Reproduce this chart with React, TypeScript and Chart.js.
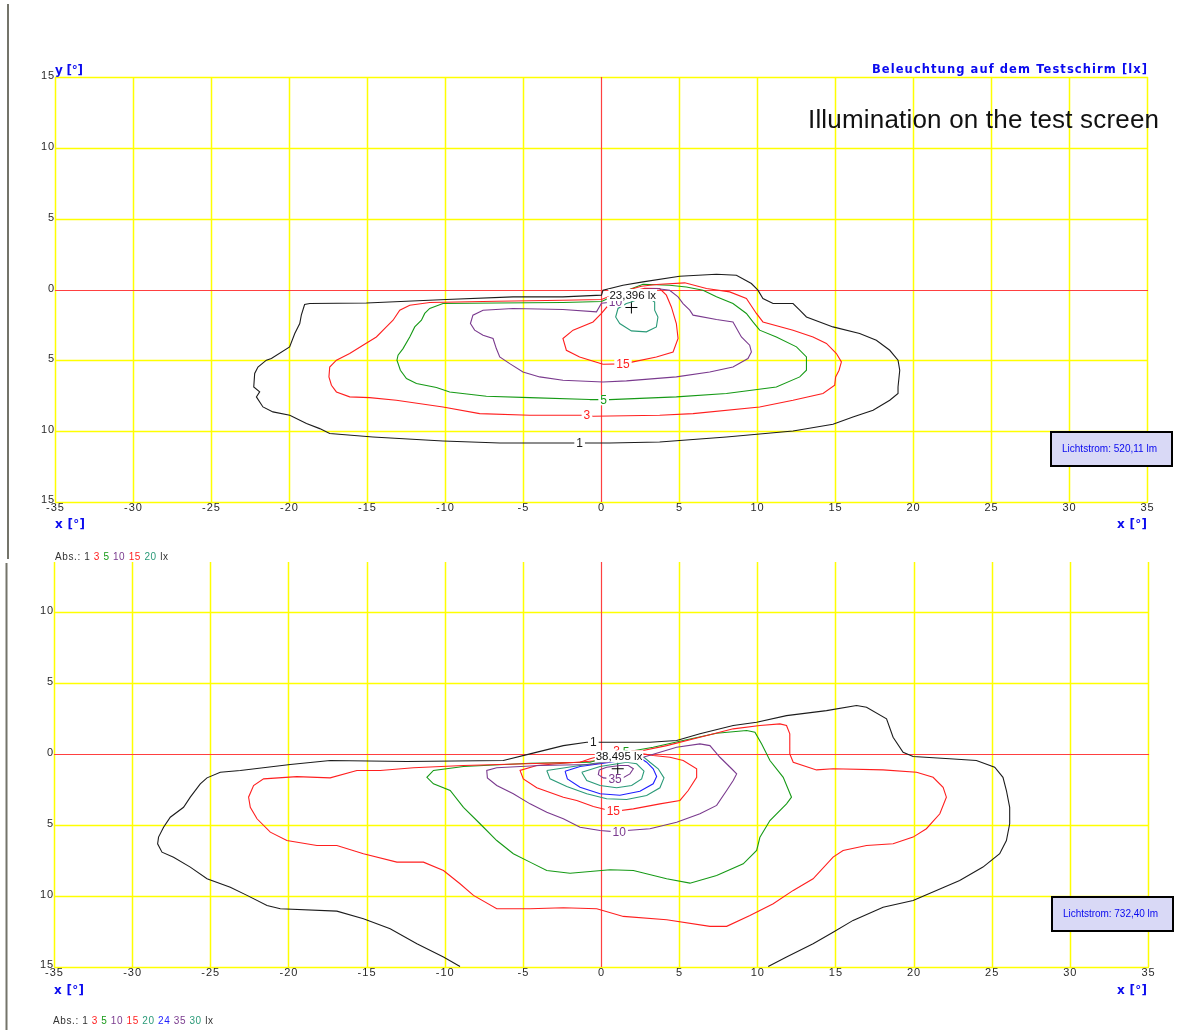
import React, { useEffect, useRef } from 'react';
import { Chart, registerables } from 'chart.js';

Chart.register(...registerables);

type Pt = [number, number];

// ---------- upper panel: illuminance isolines on the test screen (x, y in degrees) ----------
const upperLevels = [1, 3, 5, 10, 15, 20];

const upper1: Pt[] = [
  [-0.72, -10.83], [-2.44, -10.83], [-6.49, -10.83], [-10.13, -10.69], [-14.62, -10.41], [-17.39, -10.17],
  [-18.03, -9.82], [-18.88, -9.46], [-19.95, -8.88], [-21.03, -8.64], [-21.67, -8.29], [-22.09, -7.58],
  [-21.88, -7.23], [-22.26, -6.88], [-22.2, -5.93], [-21.99, -5.47], [-21.45, -4.99], [-21.13, -4.87],
  [-19.96, -4.05], [-19.63, -3.11], [-19.31, -2.4], [-19.21, -1.81], [-19.0, -1.06], [-18.67, -0.99],
  [-15.04, -0.95], [-9.91, -0.71], [-5.64, -0.52], [-2.44, -0.52], [0.03, -0.4], [0.13, -0.05],
  [1.41, 0.3], [2.69, 0.54], [5.04, 0.94], [7.4, 1.08], [8.68, 1.01], [9.64, 0.42], [10.06, -0.05],
  [10.38, -0.64], [11.03, -0.99], [12.31, -0.99], [12.74, -1.46], [13.17, -1.94], [14.87, -2.64],
  [16.58, -3.11], [17.65, -3.58], [18.51, -4.29], [19.04, -4.99], [19.15, -5.7], [19.04, -6.88],
  [19.04, -7.34], [18.51, -7.82], [17.44, -8.53], [16.15, -9.0], [14.87, -9.51], [12.31, -9.99],
  [8.04, -10.41], [3.76, -10.76], [0.56, -10.83],
];

const upper3: Pt[] = [
  [-0.9, -8.88], [-2.44, -8.88], [-4.57, -8.88], [-7.78, -8.76], [-10.13, -8.29], [-13.12, -7.82],
  [-14.83, -7.63], [-16.11, -7.58], [-16.96, -7.23], [-17.28, -6.76], [-17.44, -6.17], [-17.39, -5.47],
  [-16.96, -4.99], [-16.11, -4.52], [-15.26, -3.93], [-14.4, -3.35], [-13.76, -2.64], [-13.33, -2.17],
  [-12.9, -1.46], [-12.26, -1.11], [-10.98, -0.92], [-6.71, -0.83], [-2.44, -0.76], [0.03, -0.71],
  [1.2, -0.19], [2.59, 0.23], [3.55, 0.35], [5.37, 0.47], [6.76, 0.07], [8.25, -0.17], [9.32, -0.64],
  [9.96, -1.69], [10.38, -2.29], [12.31, -2.87], [13.59, -3.35], [14.45, -3.81], [15.09, -4.52],
  [15.41, -5.11], [15.26, -5.7], [15.04, -6.17], [14.98, -6.76], [14.23, -7.34], [12.31, -7.82],
  [10.17, -8.29], [5.9, -8.76], [3.76, -8.88], [-0.51, -8.95],
];

const upper5: Pt[] = [
  [-0.72, -7.77], [-4.57, -7.63], [-7.35, -7.54], [-9.7, -7.23], [-10.55, -6.92], [-11.83, -6.64],
  [-12.47, -6.29], [-12.86, -5.7], [-13.08, -4.99], [-13.01, -4.64], [-12.69, -4.17], [-12.26, -3.35],
  [-11.94, -2.64], [-11.51, -2.17], [-11.3, -1.69], [-10.98, -1.34], [-10.13, -0.99], [-6.71, -0.95],
  [-2.44, -0.92], [0.03, -0.85], [1.2, -0.26], [2.69, 0.37], [4.4, 0.3], [5.47, 0.18], [6.54, -0.05],
  [7.4, -0.52], [8.46, -0.99], [9.32, -1.69], [9.74, -2.29], [10.17, -2.87], [11.24, -3.35],
  [12.53, -4.05], [13.17, -4.76], [13.17, -5.7], [12.74, -6.17], [11.24, -6.88], [8.04, -7.34],
  [4.83, -7.58], [0.56, -7.77],
];

const upper10: Pt[] = [
  [0.13, -6.53], [-2.44, -6.41], [-3.93, -6.17], [-5.0, -5.82], [-5.85, -5.23], [-6.49, -4.76],
  [-6.71, -4.17], [-6.92, -3.46], [-7.56, -3.23], [-8.1, -2.87], [-8.37, -2.4], [-8.21, -1.81],
  [-7.56, -1.46], [-5.64, -1.34], [-2.44, -1.41], [-0.29, -1.58], [0.03, -0.97], [0.75, -0.88],
  [1.84, -0.26], [2.8, 0.02], [3.55, 0.07], [4.4, -0.05], [4.94, -0.52], [5.26, -0.99], [5.69, -1.46],
  [5.9, -1.81], [7.4, -2.12], [8.46, -2.29], [9.0, -3.35], [9.53, -3.93], [9.64, -4.41], [9.42, -4.87],
  [8.46, -5.47], [6.97, -5.82], [4.83, -6.17], [1.63, -6.45],
];

const upper15: Pt[] = [
  [0.13, -5.28], [1.41, -5.25], [2.05, -5.11], [3.55, -4.76], [4.62, -4.41], [4.94, -3.46],
  [4.83, -2.4], [4.51, -1.23], [4.19, -0.4], [3.76, 0.07], [2.8, 0.09], [1.52, -0.26], [0.56, -0.99],
  [0.03, -1.69], [-0.51, -2.29], [-1.79, -2.87], [-2.44, -3.46], [-2.22, -4.29], [-1.37, -4.76],
];

const upper20: Pt[] = [
  [1.63, -0.99], [1.09, -1.34], [0.94, -1.94], [1.2, -2.4], [1.95, -2.92], [2.91, -2.99], [3.55, -2.64],
  [3.65, -1.94], [3.44, -1.46], [3.44, -0.88], [3.12, -0.64], [2.48, -0.64], [1.95, -0.88],
];

const upperLabelAt: (Pt | null)[] = [[-1.37, -10.83], [-0.9, -8.88], [0.17, -7.82], [0.93, -0.88], [1.41, -5.25], null];
const upperPeak = 23.396;
const upperPeakAt: Pt = [1.95, -1.27];
const upperFlux = 520.11;

// ---------- lower panel ----------
const lowerLevels = [1, 3, 5, 10, 15, 20, 24, 35, 30];

// outermost isoline leaves the screen at the bottom edge, so it stays open
const lower1: Pt[] = [
  [-9.02, -14.96], [-10.08, -14.3], [-11.78, -13.36], [-13.49, -12.31], [-15.2, -11.6], [-16.9, -11.07],
  [-20.52, -10.9], [-21.37, -10.67], [-22.65, -9.96], [-23.72, -9.38], [-25.21, -8.79], [-26.28, -7.97],
  [-27.35, -7.27], [-28.09, -6.92], [-28.37, -6.33], [-28.31, -5.86], [-27.99, -5.16], [-27.56, -4.46],
  [-26.71, -3.76], [-26.28, -3.05], [-25.64, -2.11], [-25.21, -1.69], [-24.36, -1.29], [-23.08, -1.17],
  [-19.88, -0.75], [-17.33, -0.47], [-12.42, -0.54], [-6.25, -0.47], [-4.54, 0.0], [-2.41, 0.58],
  [-0.91, 0.82], [-0.49, 0.82], [1.0, 0.82], [3.13, 0.82], [4.84, 0.94], [6.33, 1.41], [8.46, 1.99],
  [9.96, 2.22], [11.87, 2.69], [14.43, 3.04], [16.35, 3.4], [16.99, 3.28], [18.27, 2.46], [18.69, 1.17],
  [19.33, 0.11], [19.97, -0.19], [22.31, -0.35], [24.02, -0.47], [25.19, -0.94], [25.72, -1.65],
  [25.94, -2.58], [26.15, -3.76], [26.15, -4.92], [25.94, -6.1], [25.51, -7.03], [24.44, -7.97],
  [22.95, -8.91], [21.46, -9.61], [19.97, -10.32], [18.05, -10.79], [16.13, -11.72], [14.85, -12.55],
  [13.57, -13.36], [11.87, -14.3], [10.7, -14.96],
];

const lower3: Pt[] = [
  [1.0, 0.16], [-0.7, -0.35], [-1.34, -0.59], [-8.8, -0.82], [-12.0, -0.98], [-14.13, -1.17],
  [-15.62, -1.17], [-17.33, -1.69], [-19.46, -1.6], [-21.59, -1.76], [-22.23, -2.23], [-22.55, -3.05],
  [-22.44, -3.76], [-22.01, -4.57], [-21.16, -5.51], [-20.1, -6.1], [-18.18, -6.45], [-16.9, -6.45],
  [-15.2, -7.03], [-13.06, -7.62], [-11.36, -7.62], [-10.08, -8.21], [-9.02, -9.14], [-8.16, -9.96],
  [-6.67, -10.9], [-4.54, -10.9], [-2.41, -10.83], [-0.27, -10.9], [1.43, -11.44], [4.2, -11.67],
  [6.97, -12.14], [8.04, -12.14], [9.53, -11.37], [11.02, -10.55], [12.3, -9.61], [13.57, -8.79],
  [14.85, -7.27], [15.49, -6.8], [16.99, -6.45], [18.69, -6.33], [19.97, -5.86], [20.82, -5.27],
  [21.68, -4.22], [22.1, -3.05], [21.89, -2.35], [21.25, -1.65], [20.19, -1.29], [18.05, -1.13],
  [14.85, -1.05], [13.79, -1.13], [12.3, -0.59], [12.08, 0.0], [12.08, 1.41], [11.87, 1.99],
  [11.45, 2.11], [10.17, 1.99], [8.46, 1.76], [6.33, 1.17], [4.2, 0.58], [2.7, 0.23],
];

const lower5: Pt[] = [
  [1.53, 0.11], [-0.7, -0.59], [-4.54, -0.66], [-8.8, -0.89], [-10.72, -1.17], [-11.14, -1.65],
  [-10.72, -2.11], [-9.65, -2.58], [-8.8, -3.76], [-7.74, -4.92], [-6.67, -6.1], [-5.61, -7.03],
  [-4.54, -7.62], [-3.47, -8.21], [-1.98, -8.4], [0.58, -8.16], [2.07, -8.21], [4.2, -8.79],
  [5.69, -9.1], [7.4, -8.56], [9.1, -7.74], [9.96, -6.8], [10.17, -5.86], [10.81, -4.69],
  [11.87, -3.52], [12.19, -3.05], [11.66, -1.65], [10.81, -0.47], [10.28, 0.7], [9.85, 1.52],
  [9.32, 1.64], [7.4, 1.45], [5.26, 0.94], [3.34, 0.46],
];

const lower10: Pt[] = [
  [1.17, -5.51], [-0.06, -5.39], [-1.34, -5.16], [-2.41, -4.57], [-3.47, -4.11], [-4.54, -3.52],
  [-5.61, -2.81], [-6.67, -2.23], [-7.27, -1.69], [-7.31, -1.17], [-6.67, -0.98], [-3.9, -0.82],
  [-0.7, -0.75], [2.7, -0.24], [4.84, 0.46], [6.33, 0.7], [6.97, 0.58], [7.61, -0.24], [8.36, -1.05],
  [8.68, -1.41], [8.46, -1.88], [8.04, -2.58], [7.4, -3.63], [6.33, -4.22], [4.84, -4.81],
  [3.13, -5.27], [1.64, -5.39],
];

const lower15: Pt[] = [
  [0.79, -4.06], [2.07, -3.87], [3.77, -3.52], [5.05, -3.28], [5.58, -2.58], [6.12, -1.65],
  [6.12, -1.05], [5.26, -0.47], [4.41, -0.24], [3.34, -0.12], [2.7, 0.0], [-0.06, -0.47],
  [-2.62, -0.68], [-4.11, -0.82], [-5.18, -1.17], [-4.97, -1.76], [-4.11, -2.39], [-2.41, -3.05],
  [-1.55, -3.28], [-0.49, -3.71],
];

const lower20: Pt[] = [
  [-3.47, -1.17], [-3.26, -1.76], [-2.19, -2.3], [-0.91, -2.81], [0.36, -3.16], [1.64, -3.21],
  [2.92, -2.93], [3.77, -2.39], [4.03, -1.69], [3.66, -1.05], [3.13, -0.59], [2.75, -0.24],
  [0.36, -0.54], [-1.77, -0.89],
];

const lower24: Pt[] = [
  [-2.3, -1.22], [-2.15, -1.76], [-1.34, -2.35], [-0.06, -2.81], [1.21, -2.91], [2.49, -2.63],
  [3.34, -2.11], [3.56, -1.6], [3.34, -1.05], [2.92, -0.59], [2.49, -0.28], [-0.06, -0.7], [-1.34, -0.89],
];

const lower35: Pt[] = [
  [-0.11, -1.13], [-0.17, -1.46], [0.15, -1.69], [0.9, -1.76], [1.39, -1.69], [1.85, -1.41],
  [2.07, -1.05], [1.75, -0.82], [1.21, -0.82], [0.36, -0.94],
];

const lower30: Pt[] = [
  [-1.23, -1.29], [-0.91, -1.88], [-0.06, -2.23], [1.0, -2.39], [1.96, -2.23], [2.6, -1.76],
  [2.75, -1.22], [2.28, -0.7], [1.64, -0.59], [-0.06, -0.89],
];

const lowerLabelAt: (Pt | null)[] = [[-0.49, 0.82], [1.0, 0.16], [1.6, 0.11], [1.17, -5.51], [0.79, -4.06], null, null, [0.9, -1.76], null];
const lowerPeak = 38.495;
const lowerPeakAt: Pt = [1.07, -1.05];
const lowerFlux = 732.4;

// ---------- styling ----------
const levelColor: Record<number, string> = {
  1: '#1c1c1c', 3: '#ff1f1f', 5: '#169a16', 10: '#7a3a8e', 15: '#ff1f1f',
  20: '#2a9a78', 24: '#1f1fff', 30: '#2a9a78', 35: '#7a3a8e',
};
const SANS = "'Liberation Sans', Arial, sans-serif";
const WIDE = "'DejaVu Sans', Verdana, sans-serif";
const BLUE = '#0a0aee';
const GRID = '#ffff00';
const AXIS0 = '#ff4040';

function setSpacing(ctx: CanvasRenderingContext2D, px: number) {
  (ctx as any).letterSpacing = `${px}px`;
}

// draws text with extra tracking; x is the anchor for the given alignment
function spaced(ctx: CanvasRenderingContext2D, text: string, x: number, y: number, font: string, color: string,
  spacing: number, align: 'left' | 'right' | 'center' = 'left', baseline: CanvasTextBaseline = 'alphabetic') {
  ctx.save();
  ctx.font = font;
  setSpacing(ctx, 0);
  const w = ctx.measureText(text).width + spacing * (text.length - 1);
  const sx = align === 'right' ? x - w : align === 'center' ? x - w / 2 : x;
  setSpacing(ctx, spacing);
  ctx.textAlign = 'left';
  ctx.textBaseline = baseline;
  ctx.fillStyle = color;
  ctx.fillText(text, sx, y);
  ctx.restore();
  return w;
}

function fitted(ctx: CanvasRenderingContext2D, text: string, x: number, y: number, font: string, color: string,
  width: number, align: 'left' | 'right' = 'left', baseline: CanvasTextBaseline = 'alphabetic') {
  ctx.save();
  ctx.font = font;
  setSpacing(ctx, 0);
  const w0 = ctx.measureText(text).width;
  ctx.restore();
  const sp = (width - w0) / (text.length - 1);
  spaced(ctx, text, x, y, font, color, sp, align, baseline);
}

function legend(ctx: CanvasRenderingContext2D, levels: number[], x: number, y: number, width: number) {
  const parts: [string, string][] = [['Abs.: 1', '#333']];
  levels.slice(1).forEach((l) => parts.push([' ' + l, levelColor[l]]));
  parts.push([' lx', '#333']);
  const font = `10px ${SANS}`;
  ctx.save();
  ctx.font = font;
  setSpacing(ctx, 0);
  const full = parts.map((p) => p[0]).join('');
  const sp = (width - ctx.measureText(full).width) / (full.length - 1);
  ctx.restore();
  let cx = x;
  parts.forEach(([t, c]) => {
    const w = spaced(ctx, t, cx, y, font, c, sp, 'left', 'middle');
    cx += w + sp;
  });
}

function fluxBox(ctx: CanvasRenderingContext2D, x: number, y: number, flux: number) {
  ctx.save();
  ctx.fillStyle = '#d9d9f6';
  ctx.fillRect(x, y, 121, 34);
  ctx.strokeStyle = '#000';
  ctx.lineWidth = 2;
  ctx.strokeRect(x, y, 121, 34);
  ctx.restore();
  fitted(ctx, `Lichtstrom: ${flux.toFixed(2).replace('.', ',')} lm`, x + 11, y + 17.5, `10px ${SANS}`, BLUE, 95, 'left', 'middle');
}

type Panel = {
  levels: number[];
  lines: Pt[][];
  closed: boolean[];
  labelAt: (Pt | null)[];
  peak: number;
  peakAt: Pt;
  yMax: number;
  padding: { left: number; right: number; top: number; bottom: number };
  decorate: (ctx: CanvasRenderingContext2D) => void;
};

function buildChart(canvas: HTMLCanvasElement, p: Panel) {
  const datasets: any[] = p.lines.map((pts, i) => {
    const data = pts.map(([x, y]) => ({ x, y }));
    if (p.closed[i]) data.push({ x: pts[0][0], y: pts[0][1] });
    return {
      label: `${p.levels[i]} lx`,
      data,
      showLine: true,
      borderColor: levelColor[p.levels[i]],
      borderWidth: 1.1,
      pointRadius: 0,
      tension: 0,
      fill: false,
    };
  });
  datasets.push({
    label: 'max',
    data: [{ x: p.peakAt[0], y: p.peakAt[1] }],
    showLine: false,
    pointStyle: 'cross',
    pointRadius: 6,
    borderColor: '#000',
    borderWidth: 1,
  });

  const overlay = {
    id: 'overlay',
    // yellow 5° grid with red zero axes, taken from the scale ticks
    beforeDatasetsDraw(chart: any) {
      const ctx: CanvasRenderingContext2D = chart.ctx;
      const xs = chart.scales.x;
      const ys = chart.scales.y;
      const a = chart.chartArea;
      ctx.save();
      const drawSet = (zero: boolean) => {
        ctx.lineWidth = zero ? 1.2 : 1.5;
        ctx.strokeStyle = zero ? AXIS0 : GRID;
        xs.ticks.forEach((t: any) => {
          if ((t.value === 0) !== zero) return;
          const px = Math.round(xs.getPixelForValue(t.value)) + 0.5;
          ctx.beginPath();
          ctx.moveTo(px, a.top);
          ctx.lineTo(px, a.bottom);
          ctx.stroke();
        });
        ys.ticks.forEach((t: any) => {
          if ((t.value === 0) !== zero) return;
          const py = Math.round(ys.getPixelForValue(t.value)) + 0.5;
          ctx.beginPath();
          ctx.moveTo(a.left, py);
          ctx.lineTo(a.right + 1, py);
          ctx.stroke();
        });
      };
      drawSet(false);
      drawSet(true);
      ctx.restore();
    },
    afterDatasetsDraw(chart: any) {
      const ctx: CanvasRenderingContext2D = chart.ctx;
      const xs = chart.scales.x;
      const ys = chart.scales.y;
      // isoline values written on the lines
      p.labelAt.forEach((at, i) => {
        if (!at) return;
        const px = xs.getPixelForValue(at[0]);
        const py = ys.getPixelForValue(at[1]);
        const t = String(p.levels[i]);
        ctx.save();
        ctx.font = `12px ${SANS}`;
        const w = ctx.measureText(t).width;
        ctx.fillStyle = '#fff';
        ctx.fillRect(px - w / 2 - 2, py - 5, w + 4, 10);
        ctx.fillStyle = levelColor[p.levels[i]];
        ctx.textAlign = 'center';
        ctx.textBaseline = 'middle';
        ctx.fillText(t, px, py + 0.5);
        ctx.restore();
      });
      // maximum value next to the cross
      const mx = xs.getPixelForValue(p.peakAt[0]);
      const my = ys.getPixelForValue(p.peakAt[1]);
      const txt = `${p.peak.toFixed(3).replace('.', ',')} lx`;
      ctx.save();
      ctx.font = `11.5px ${SANS}`;
      const w = ctx.measureText(txt).width;
      ctx.fillStyle = '#fff';
      ctx.fillRect(mx - 23, my - 18.5, w + 2, 12);
      ctx.fillStyle = '#111';
      ctx.textBaseline = 'middle';
      ctx.fillText(txt, mx - 22, my - 12);
      ctx.restore();
    },
    afterDraw(chart: any) {
      const ctx: CanvasRenderingContext2D = chart.ctx;
      const xs = chart.scales.x;
      const ys = chart.scales.y;
      const area = chart.chartArea;
      const tickFont = `11px ${SANS}`;
      ys.ticks.forEach((t: any, i: number) => {
        const py = ys.getPixelForValue(t.value) - (i === 0 ? 2 : 1);
        spaced(ctx, String(Math.abs(t.value)), area.left - 1, py, tickFont, '#2a2a2a', 0.8, 'right', 'middle');
      });
      xs.ticks.forEach((t: any) => {
        const px = xs.getPixelForValue(t.value);
        spaced(ctx, String(t.value), px, area.bottom + 6, tickFont, '#2a2a2a', 1, 'center', 'middle');
      });
      p.decorate(ctx);
    },
  };

  return new Chart(canvas, {
    type: 'scatter',
    data: { datasets },
    options: {
      responsive: false,
      animation: false,
      events: [],
      layout: { padding: p.padding },
      plugins: { legend: { display: false }, tooltip: { enabled: false } },
      scales: {
        x: {
          type: 'linear',
          min: -35,
          max: 35,
          ticks: { stepSize: 5, display: false },
          grid: { display: false, drawTicks: false },
          border: { display: false },
          afterFit: (s: any) => { s.height = 0; },
        },
        y: {
          type: 'linear',
          min: -15,
          max: p.yMax,
          ticks: { stepSize: 5, display: false, includeBounds: false },
          grid: { display: false, drawTicks: false },
          border: { display: false },
          afterFit: (s: any) => { s.width = 0; },
        },
      },
    } as any,
    plugins: [overlay as any],
  });
}

export default function App() {
  const upperRef = useRef<HTMLCanvasElement>(null);
  const lowerRef = useRef<HTMLCanvasElement>(null);

  useEffect(() => {
    const upper = buildChart(upperRef.current!, {
      levels: upperLevels,
      lines: [upper1, upper3, upper5, upper10, upper15, upper20],
      closed: [true, true, true, true, true, true],
      labelAt: upperLabelAt,
      peak: upperPeak,
      peakAt: upperPeakAt,
      yMax: 15,
      padding: { left: 55, right: 33, top: 77, bottom: 528 },
      decorate: (ctx) => {
        ctx.save();
        ctx.fillStyle = '#74746a';
        ctx.fillRect(7, 4, 2, 555);
        ctx.restore();
        fitted(ctx, 'y [°]', 55, 73.5, `bold 12px ${WIDE}`, BLUE, 28);
        fitted(ctx, 'Beleuchtung auf dem Testschirm [lx]', 1147, 72.5, `bold 11.5px ${WIDE}`, BLUE, 275, 'right');
        fitted(ctx, 'Illumination on the test screen', 808, 128, `26px ${SANS}`, '#111', 351);
        fitted(ctx, 'x [°]', 55, 528, `bold 12px ${WIDE}`, BLUE, 30);
        fitted(ctx, 'x [°]', 1147, 528, `bold 12px ${WIDE}`, BLUE, 30, 'right');
        fluxBox(ctx, 1051, 432, upperFlux);
        legend(ctx, upperLevels, 55, 557, 113);
      },
    });

    const lower = buildChart(lowerRef.current!, {
      levels: lowerLevels,
      lines: [lower1, lower3, lower5, lower10, lower15, lower20, lower24, lower35, lower30],
      closed: [false, true, true, true, true, true, true, true, true],
      labelAt: lowerLabelAt,
      peak: lowerPeak,
      peakAt: lowerPeakAt,
      yMax: 13.5,
      padding: { left: 54, right: 32, top: 562, bottom: 63 },
      decorate: (ctx) => {
        ctx.save();
        ctx.fillStyle = '#74746a';
        ctx.fillRect(5.5, 563, 2, 467);
        ctx.restore();
        fitted(ctx, 'x [°]', 54, 993.5, `bold 12px ${WIDE}`, BLUE, 30);
        fitted(ctx, 'x [°]', 1147, 993.5, `bold 12px ${WIDE}`, BLUE, 30, 'right');
        fluxBox(ctx, 1052, 897, lowerFlux);
        legend(ctx, lowerLevels, 53, 1021, 160);
      },
    });

    return () => {
      upper.destroy();
      lower.destroy();
    };
  }, []);

  return (
    <div style={{ position: 'absolute', left: 0, top: 0, width: 1180, height: 1030, background: '#fff' }}>
      <canvas ref={upperRef} width={1180} height={1030} style={{ position: 'absolute', left: 0, top: 0 }} />
      <canvas ref={lowerRef} width={1180} height={1030} style={{ position: 'absolute', left: 0, top: 0 }} />
    </div>
  );
}
